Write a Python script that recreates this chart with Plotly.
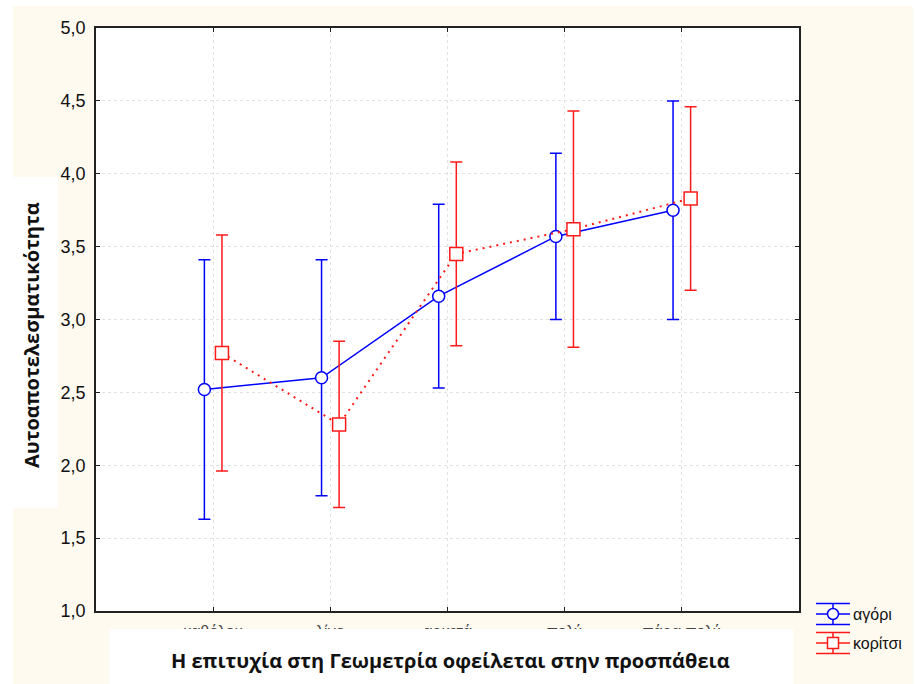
import numpy as np
import plotly.graph_objects as go

# Categories of the x axis (effort attribution)
categories = ["καθόλου", "λίγο", "αρκετά", "πολύ", "πάρα πολύ"]

# Means and half-widths of the confidence intervals per group
boys_mean = [2.52, 2.60, 3.16, 3.57, 3.75]
boys_err = [0.89, 0.81, 0.63, 0.57, 0.75]
girls_mean = [2.77, 2.28, 3.45, 3.62, 3.83]
girls_err = [0.81, 0.57, 0.63, 0.81, 0.63]

y_ticks = [1.0, 1.5, 2.0, 2.5, 3.0, 3.5, 4.0, 4.5, 5.0]

BLUE = "#0000ff"
RED = "#ff1a1a"
CREAM = "#fffaf0"

W, H = 915, 684
ML, MR, MT, MB = 96, 116, 28, 73
PW, PH = W - ML - MR, H - MT - MB


def px(x):
    return (x - ML) / PW


def py(y):
    return (H - MB - y) / PH


pos = np.arange(1, len(categories) + 1)
dodge = 0.075

fig = go.Figure()

fig.add_trace(go.Scatter(
    x=pos - dodge, y=boys_mean, name="αγόρι", mode="lines+markers",
    line=dict(color=BLUE, width=1.5),
    marker=dict(symbol="circle", size=12, color="white",
                line=dict(color=BLUE, width=1.5)),
    error_y=dict(type="data", array=boys_err, visible=True,
                 color=BLUE, thickness=1.5, width=6),
    showlegend=False,
))
fig.add_trace(go.Scatter(
    x=pos + dodge, y=girls_mean, name="κορίτσι", mode="lines+markers",
    line=dict(color=RED, width=2, dash="2px,5px"),
    marker=dict(symbol="square", size=13, color="white",
                line=dict(color=RED, width=1.5)),
    error_y=dict(type="data", array=girls_err, visible=True,
                 color=RED, thickness=1.5, width=6),
    showlegend=False,
))

shapes = [
    # cream page and white plotting area
    dict(type="rect", xref="paper", yref="paper", layer="below",
         x0=px(13), x1=px(913), y0=py(684), y1=py(6),
         fillcolor=CREAM, line=dict(width=0)),
    dict(type="rect", xref="paper", yref="paper", layer="below",
         x0=0, x1=1, y0=0, y1=1, fillcolor="white", line=dict(width=0)),
    # white panels behind the axis titles
    dict(type="rect", xref="paper", yref="paper", layer="above",
         x0=px(109), x1=px(793), y0=py(684), y1=py(629),
         fillcolor="white", line=dict(width=0)),
    dict(type="rect", xref="paper", yref="paper", layer="above",
         x0=px(13), x1=px(58), y0=py(508), y1=py(177),
         fillcolor="white", line=dict(width=0)),
]

annotations = [
    dict(text="<b>Η επιτυχία στη Γεωμετρία οφείλεται στην προσπάθεια</b>",
         xref="paper", yref="paper", x=px(450), y=py(660),
         xanchor="center", yanchor="middle", showarrow=False,
         font=dict(family="Open Sans", size=20, color="#111111")),
    dict(text="<b>Αυτοαποτελεσματικότητα</b>", textangle=-90,
         xref="paper", yref="paper", x=px(31), y=py(335),
         xanchor="center", yanchor="middle", showarrow=False,
         font=dict(family="Open Sans", size=20, color="#111111")),
]

# Legend drawn as error-bar glyphs
legend_rows = [("αγόρι", BLUE, "circle", 614),
               ("κορίτσι", RED, "square", 643)]
for label, col, sym, yc in legend_rows:
    xa, ya = px(833), py(yc)
    common = dict(xref="paper", yref="paper", xsizemode="pixel",
                  ysizemode="pixel", xanchor=xa, yanchor=ya, layer="above")
    for dy in (-10.5, 0, 10.5):
        shapes.append(dict(type="line", x0=-17, x1=17, y0=dy, y1=dy,
                           line=dict(color=col, width=1.5), **common))
    shapes.append(dict(type="line", x0=0, x1=0, y0=-10.5, y1=10.5,
                       line=dict(color=col, width=1.5), **common))
    r = 5.5
    shapes.append(dict(type="circle" if sym == "circle" else "rect",
                       x0=-r, x1=r, y0=-r, y1=r, fillcolor="white",
                       line=dict(color=col, width=1.5), **common))
    annotations.append(dict(text=label, xref="paper", yref="paper",
                            x=px(851), y=ya, xanchor="left", yanchor="middle",
                            showarrow=False,
                            font=dict(family="Liberation Sans", size=16,
                                      color="#111111")))

fig.update_layout(
    width=W, height=H,
    margin=dict(l=ML, r=MR, t=MT, b=MB),
    paper_bgcolor="white", plot_bgcolor="white",
    separators=",.",
    shapes=shapes, annotations=annotations,
    font=dict(family="Liberation Sans", size=15, color="#222222"),
)
fig.update_xaxes(
    range=[0, len(categories) + 1], tickvals=pos, ticktext=categories,
    showline=True, linecolor="#222222", linewidth=1.5, mirror="ticks",
    ticks="inside", ticklen=4, tickcolor="#222222",
    showgrid=True, gridcolor="#e2e2e2", griddash="dot", gridwidth=1,
    zeroline=False, tickfont=dict(size=16, color="#444444"),
    ticklabelstandoff=5,
)
fig.update_yaxes(
    range=[1, 5], tickvals=y_ticks, tickformat=".1f",
    showline=True, linecolor="#222222", linewidth=1.5, mirror="ticks",
    ticks="inside", ticklen=4, tickcolor="#222222",
    showgrid=True, gridcolor="#e2e2e2", griddash="dot", gridwidth=1,
    zeroline=False, tickfont=dict(size=18, color="#111111"),
    ticklabelstandoff=5,
)

fig.write_html("out.html")
